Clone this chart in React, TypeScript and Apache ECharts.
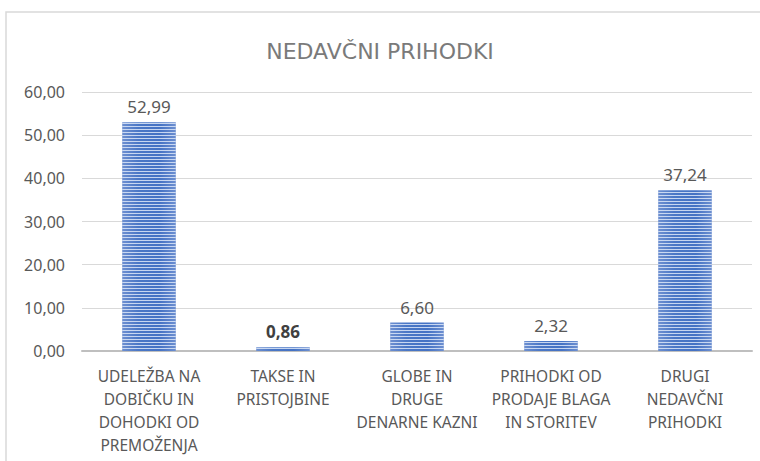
import React, { useEffect, useRef } from "react";
import * as echarts from "echarts";

const categories = [
  "UDELEŽBA NA\nDOBIČKU IN\nDOHODKI OD\nPREMOŽENJA",
  "TAKSE IN\nPRISTOJBINE",
  "GLOBE IN\nDRUGE\nDENARNE KAZNI",
  "PRIHODKI OD\nPRODAJE BLAGA\nIN STORITEV",
  "DRUGI\nNEDAVČNI\nPRIHODKI",
];
const values = [52.99, 0.86, 6.6, 2.32, 37.24];
const boldIndex = [1];
const title = "NEDAVČNI PRIHODKI";

const fmt = (v: number) => v.toFixed(2).replace(".", ",");

export default function App() {
  const ref = useRef<HTMLDivElement>(null);
  useEffect(() => {
    const chart = echarts.init(ref.current!, null, { renderer: "svg" });
    chart.setOption({
      animation: false,
      backgroundColor: "#ffffff",
      title: {
        text: title,
        left: "center",
        top: 35,
        textStyle: {
          color: "#7a7a7a",
          fontSize: 22,
          fontWeight: "normal",
          fontFamily: "DejaVu Sans",
        },
      },
      graphic: [
        {
          type: "rect",
          shape: { x: 6, y: 12, width: 800, height: 500 },
          style: { fill: "none", stroke: "#d9d9d9", lineWidth: 1.5 },
          silent: true,
          z: -1,
        },
      ],
      grid: { left: 82, right: 8, top: 92, bottom: 110 },
      xAxis: {
        type: "category",
        data: categories,
        axisLine: { lineStyle: { color: "#bfbfbf", width: 2 } },
        axisTick: { show: false },
        axisLabel: {
          interval: 0,
          color: "#595959",
          fontSize: 15.5,
          lineHeight: 23,
          margin: 13,
          fontFamily: "Noto Sans",
          verticalAlign: "top",
        },
      },
      yAxis: {
        type: "value",
        min: 0,
        max: 60,
        interval: 10,
        axisLine: { show: false },
        axisTick: { show: false },
        splitLine: { lineStyle: { color: "#d9d9d9", width: 1 } },
        axisLabel: {
          color: "#595959",
          fontSize: 16,
          margin: 17,
          fontFamily: "Noto Sans",
          formatter: (v: number) => fmt(v),
        },
      },
      series: [
        {
          type: "bar",
          barWidth: "40%",
          data: values.map((v, i) => ({
            value: v,
            label: boldIndex.includes(i)
              ? { fontWeight: "bold", color: "#404040" }
              : undefined,
          })),
          itemStyle: {
            color: {
              type: "linear",
              x: 0,
              y: 0,
              x2: 1,
              y2: 0,
              colorStops: [
                { offset: 0, color: "#6d8fd0" },
                { offset: 0.3, color: "#4a77c6" },
                { offset: 0.7, color: "#4472c4" },
                { offset: 1, color: "#6d8fd0" },
              ],
            },
            decal: {
              symbol: "rect",
              symbolSize: 1,
              dashArrayX: [1, 0],
              dashArrayY: [1, 2],
              rotation: 0,
              color: "rgba(220,230,248,0.85)",
            },
          },
          label: {
            show: true,
            position: "top",
            distance: 7,
            color: "#595959",
            fontSize: 17,
            fontFamily: "Noto Sans",
            formatter: (p: any) => fmt(p.value),
          },
        },
      ],
    });
    return () => chart.dispose();
  }, []);
  return (
    <div
      ref={ref}
      style={{ position: "fixed", left: 0, top: 0, width: 760, height: 461 }}
    />
  );
}
